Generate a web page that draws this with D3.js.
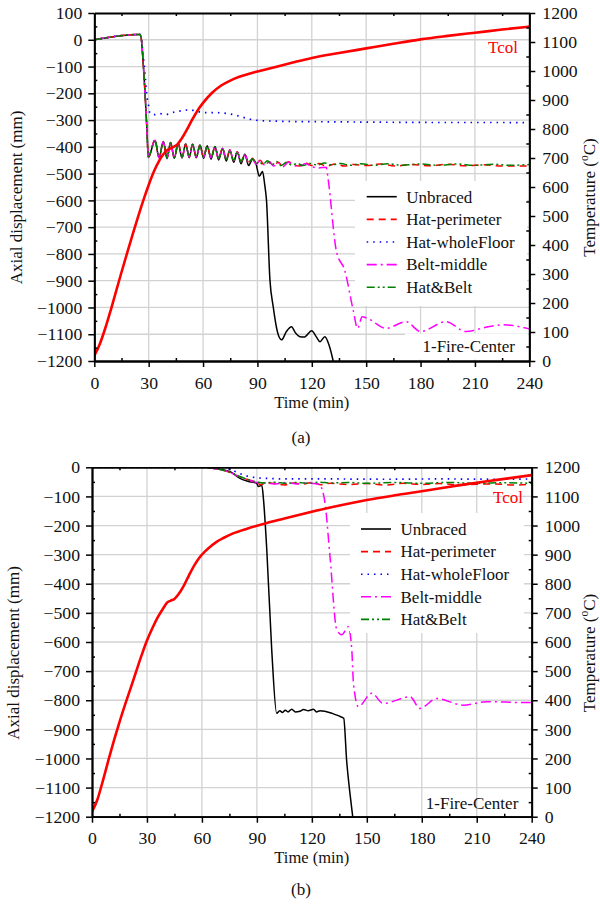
<!DOCTYPE html>
<html>
<head>
<meta charset="utf-8">
<script src="https://cdn.jsdelivr.net/npm/d3@7"></script>
<style>
  body { margin: 0; background: #fff; }
  svg text { font-family: "Liberation Serif", "Times New Roman", serif; fill: #111; }
</style>
</head>
<body>
<svg id="fig" width="600" height="904"></svg>
<script>
// ---------- tick values ----------
const timeTicks = [0, 30, 60, 90, 120, 150, 180, 210, 240];
const timeMinor = [15, 45, 75, 105, 135, 165, 195, 225];
const dispTicksA = [100, 0, -100, -200, -300, -400, -500, -600, -700, -800, -900, -1000, -1100, -1200];
const dispTicksB = [0, -100, -200, -300, -400, -500, -600, -700, -800, -900, -1000, -1100, -1200];
const dispMinorA = [50, -50, -150, -250, -350, -450, -550, -650, -750, -850, -950, -1050, -1150];
const dispMinorB = [-50, -150, -250, -350, -450, -550, -650, -750, -850, -950, -1050, -1150];
const tempTicks = [0, 100, 200, 300, 400, 500, 600, 700, 800, 900, 1000, 1100, 1200];
const tempMinor = [50, 150, 250, 350, 450, 550, 650, 750, 850, 950, 1050, 1150];

// ---------- series names ----------
const seriesLabels = ["Unbraced", "Hat-perimeter", "Hat-wholeFloor", "Belt-middle", "Hat&Belt"];
const seriesColors = ["#000000", "#ff0000", "#0000ff", "#ff00ff", "#008000"];
const seriesDash = [null, "7,5", "1.5,5", "10,4,2,4", "8,3,2,3,2,3"];

// ---------- (a) column temperature, °C ----------
const aTcolTime = [0,3,6,9,12,15,18,21,24,27,30,33,36,38,40,42,44,46,48,51,54,57,60,65,70,75,80,85,90,100,110,120,135,150,165,180,195,210,225,240];
const aTcolTemp = [18,58,112,174,240,306,370,433,494,553,607,655,693,712,726,733,739,748,765,797,832,864,890,925,950,967,980,990,998,1014,1030,1045,1062,1078,1094,1109,1121,1132,1143,1153];

// ---------- (a) axial displacement, mm ----------
const aUnbracedTime = [0,25.2,26,27,28,29,29.8,33.5,35.7,38.1,40.1,42.1,44.1,46.3,48.4,50.4,52.4,54.2,56.3,58.3,60.3,62.3,64.4,66.6,68.6,70.8,72.8,74.8,76.9,78.9,80.9,83.1,85.1,87.3,89.3,91,92.8,94,95,96.9,98.7,101,103.3,106,108.8,111,113.4,116,119.9,122.5,124.5,127.2,129.5,131.8,133];
const aUnbracedDisp = [0,20,0,-90,-200,-330,-440,-376,-441,-381,-444,-384,-443,-387,-442,-389,-441,-390,-441,-393,-443,-396,-446,-399,-449,-405,-453,-412,-458,-418,-463,-428,-470,-446,-465,-510,-492,-540,-600,-897,-997,-1090,-1121,-1090,-1072,-1095,-1109,-1110,-1087,-1110,-1128,-1109,-1140,-1200,-1240];

const aHatPerimTime = [0,25.2,26,27,28,29,29.8,33.5,35.7,38.1,40.1,42.1,44.1,46.3,48.4,50.4,52.4,54.2,56.3,58.3,60.3,62.3,64.4,66.6,68.6,70.8,72.8,74.8,76.9,78.9,80.9,83.1,85.1,87.3,89.3,91.5,94,96.5,99,101.5,104,107,110,113,116.5,120,124,128,133,138,143,150,158,166,175,185,195,205,215,225,240];
const aHatPerimDisp = [0,20,0,-90,-200,-330,-438,-374,-440,-380,-442,-384,-440,-387,-439,-389,-437,-390,-437,-393,-438,-396,-440,-399,-443,-405,-447,-412,-451,-418,-455,-428,-459,-443,-464,-450,-470,-456,-470,-458,-474,-456,-466,-472,-460,-470,-462,-472,-464,-472,-466,-470,-464,-472,-466,-471,-465,-471,-467,-472,-472];

const aHatWholeTime = [0,25.2,26,27,28,29,29.8,30.7,33,36.2,39.9,43,46.4,52.8,56,60.1,66,73,78,82.2,86,91.4,100,106,120,140,160,190,220,240];
const aHatWholeDisp = [0,20,2,-60,-130,-210,-240,-275,-280,-276,-279,-272,-267,-262,-266,-272,-272,-275,-282,-290,-297,-302,-304,-305,-306,-307,-308,-309,-309,-310];

const aBeltTime = [0,25.2,26,27,28,29,29.8,33.5,35.7,38.1,40.1,42.1,44.1,46.3,48.4,50.4,52.4,54.2,56.3,58.3,60.3,62.3,64.4,66.6,68.6,70.8,72.8,74.8,76.9,78.9,80.9,83.1,85.1,87.3,89.3,91.5,94,96.5,99,101.5,104,107,110,113,116.5,120,123.5,128,129,133.6,138.2,142.8,145.3,147.8,150.5,161,172,180,194,205,218,226,240];
const aBeltDisp = [0,20,0,-90,-200,-330,-439,-375,-441,-381,-443,-385,-441,-388,-440,-390,-438,-391,-438,-394,-439,-397,-441,-400,-444,-406,-448,-413,-452,-419,-456,-429,-460,-444,-465,-452,-468,-456,-472,-460,-474,-458,-468,-474,-462,-474,-479,-476,-520,-791,-862,-1009,-1078,-1035,-1040,-1078,-1053,-1090,-1053,-1090,-1071,-1065,-1080];

const aHatBeltTime = [0,25.2,26,27,28,29,29.8,33.5,35.7,38.1,40.1,42.1,44.1,46.3,48.4,50.4,52.4,54.2,56.3,58.3,60.3,62.3,64.4,66.6,68.6,70.8,72.8,74.8,76.9,78.9,80.9,83.1,85.1,87.3,89.3,91,93,95.5,98,100.5,103,106,109,112,115,119,123,127,131,136,141,147,154,162,170,180,190,200,210,220,230,240];
const aHatBeltDisp = [0,20,0,-90,-200,-330,-437,-375,-439,-381,-441,-385,-440,-388,-439,-390,-437,-391,-437,-394,-438,-397,-440,-400,-443,-406,-447,-413,-451,-419,-455,-429,-458,-444,-462,-455,-466,-452,-468,-455,-470,-458,-468,-462,-470,-462,-468,-460,-468,-462,-469,-463,-469,-463,-469,-464,-469,-464,-469,-465,-469,-466];

// ---------- (b) column temperature, °C ----------
const bTcolTime = [0,3,6,9,12,15,18,21,24,27,30,33,36,39,41,43,45,47,50,53,56,59,62,65,68,72,77,85,95,105,115,130,150,170,186,200,220,240];
const bTcolTemp = [17,60,125,195,262,325,384,440,497,553,605,648,686,717,735,742,748,762,792,830,865,893,913,930,944,958,973,990,1008,1024,1040,1062,1088,1108,1124,1138,1156,1173];

// ---------- (b) axial displacement, mm ----------
const bUnbracedTime = [0,62,66,70,75.4,80.8,85,89.9,90.8,92.7,93.6,95.4,98.1,100.8,102.5,104,105.5,107,109,111,113.5,115.5,118,120.9,122.5,124.5,127,129.5,131.5,133.6,135.5,137.4,139,140.8,142.3,143];
const bUnbracedDisp = [0,0,-3,-7,-15,-38,-48,-55,-66,-62,-110,-283,-627,-845,-836,-842,-834,-840,-831,-840,-838,-832,-836,-831,-840,-836,-838,-842,-846,-851,-856,-862,-1008,-1120,-1200,-1240];

const bHatPerimTime = [0,62,66,70,75,80,85,90,92,95,100,105,110,115,120,125,130,140,150,160,170,180,190,200,210,220,230,240];
const bHatPerimDisp = [0,0,-3,-8,-17,-31,-42,-52,-60,-53,-56,-61,-54,-58,-52,-60,-55,-59,-56,-61,-55,-59,-56,-61,-58,-57,-61,-58];

const bHatWholeTime = [0,70,73,76,79,82.6,86,90,95,105,130,160,190,220,240];
const bHatWholeDisp = [0,0,-2,-8,-17,-26,-32,-36,-38,-40,-40,-41,-40,-41,-40];

const bBeltTime = [0,62,66,70,75,80,85,90,95,100,106,112,118,121,124,125.4,127.2,129.9,133.6,136.3,139.9,141.8,142.7,145.4,152.7,159,173.6,179,188.1,202.7,215.4,237.2,240];
const bBeltDisp = [0,0,-3,-8,-16,-31,-43,-52,-54,-57,-52,-57,-53,-56,-58,-72,-123,-306,-558,-575,-548,-627,-741,-822,-776,-811,-788,-828,-794,-817,-805,-808,-808];

const bHatBeltTime = [0,62,66,70,75,80,85,90,94,100,106,112,118,124,130,140,150,165,180,195,210,225,240];
const bHatBeltDisp = [0,0,-3,-8,-16,-30,-42,-50,-54,-51,-55,-52,-55,-51,-54,-52,-55,-52,-55,-52,-55,-53,-55];

// ---------- drawing ----------
const FONT = "'Liberation Serif', 'Times New Roman', serif";
const svg = d3.select("#fig");
const defs = svg.append("defs");
const zip = (ts, vs) => ts.map((t, i) => [t, vs[i]]);
const intFmt = d3.format("d");

const panels = [
  {
    id: "a", left: 94.3, right: 529.3, top: 13, bottom: 361,
    dispDomain: [-1200, 100], dispTicks: dispTicksA, dispMinor: dispMinorA,
    tcol: zip(aTcolTime, aTcolTemp),
    series: [zip(aUnbracedTime, aUnbracedDisp), zip(aHatPerimTime, aHatPerimDisp),
             zip(aHatWholeTime, aHatWholeDisp), zip(aBeltTime, aBeltDisp), zip(aHatBeltTime, aHatBeltDisp)],
    tcolLabel: [518, 53],
    legendBox: [355, 181, 172, 125], legendX: 366.7, legendY0: 196.7, legendDy: 22.65,
    fireBox: [405, 333.6, 123, 26], fireLabel: [515, 351.5],
    yTitleX: 21.5, rTitleX: 594.5, titleCy: 197.5, xTitleY: 408, caption: "(a)", captionY: 443
  },
  {
    id: "b", left: 92, right: 531.7, top: 467.3, bottom: 816.7,
    dispDomain: [-1200, 0], dispTicks: dispTicksB, dispMinor: dispMinorB,
    tcol: zip(bTcolTime, bTcolTemp),
    series: [zip(bUnbracedTime, bUnbracedDisp), zip(bHatPerimTime, bHatPerimDisp),
             zip(bHatWholeTime, bHatWholeDisp), zip(bBeltTime, bBeltDisp), zip(bHatBeltTime, bHatBeltDisp)],
    tcolLabel: [523, 503],
    legendBox: [350, 513, 174, 120], legendX: 361, legendY0: 529, legendDy: 22.6,
    fireBox: null, fireLabel: [518.3, 808.5],
    yTitleX: 18.5, rTitleX: 594.5, titleCy: 653, xTitleY: 863, caption: "(b)", captionY: 895
  }
];

function styleAxis(sel) {
  sel.attr("font-family", FONT);
  sel.select(".domain").attr("stroke", "#000").attr("stroke-width", 1.8);
  sel.selectAll(".tick line").attr("stroke", "#000").attr("stroke-width", 1.5);
  sel.selectAll(".tick text").attr("font-size", 17.7).attr("fill", "#111").attr("font-family", FONT);
}

panels.forEach(p => {
  const x = d3.scaleLinear().domain([0, 240]).range([p.left, p.right]);
  const yD = d3.scaleLinear().domain(p.dispDomain).range([p.bottom, p.top]);
  const yT = d3.scaleLinear().domain([0, 1200]).range([p.bottom, p.top]);
  const g = svg.append("g").attr("font-family", FONT);

  const clipId = "clip-" + p.id;
  defs.append("clipPath").attr("id", clipId).append("rect")
    .attr("x", p.left).attr("y", p.top).attr("width", p.right - p.left).attr("height", p.bottom - p.top);

  // grid
  const grid = g.append("g").attr("stroke", "#d2d2d2").attr("stroke-width", 1.3);
  grid.selectAll("line.v").data(timeTicks.slice(1, -1)).join("line").attr("class", "v")
    .attr("x1", d => x(d)).attr("x2", d => x(d)).attr("y1", p.top).attr("y2", p.bottom);
  grid.selectAll("line.h").data(p.dispTicks.slice(1, -1)).join("line").attr("class", "h")
    .attr("y1", d => yD(d)).attr("y2", d => yD(d)).attr("x1", p.left).attr("x2", p.right);

  // plotted curves
  const plot = g.append("g").attr("clip-path", `url(#${clipId})`);
  const dispLine = d3.line().curve(d3.curveMonotoneX).x(d => x(d[0])).y(d => yD(d[1]));
  const order = [0, 2, 1, 3, 4];
  order.forEach(i => {
    plot.append("path").datum(p.series[i])
      .attr("d", dispLine).attr("fill", "none")
      .attr("stroke", seriesColors[i]).attr("stroke-width", i === 2 ? 1.7 : 1.5)
      .attr("stroke-dasharray", seriesDash[i]);
  });
  const tempLine = d3.line().curve(d3.curveMonotoneX).x(d => x(d[0])).y(d => yT(d[1]));
  plot.append("path").datum(p.tcol).attr("d", tempLine)
    .attr("fill", "none").attr("stroke", "#ff0000").attr("stroke-width", 2.6);

  // legend
  const lb = p.legendBox;
  const leg = g.append("g");
  leg.append("rect").attr("x", lb[0]).attr("y", lb[1]).attr("width", lb[2]).attr("height", lb[3]).attr("fill", "#fff");
  seriesLabels.forEach((name, i) => {
    const yy = p.legendY0 + i * p.legendDy;
    leg.append("line").attr("x1", p.legendX).attr("x2", p.legendX + 30).attr("y1", yy).attr("y2", yy)
      .attr("stroke", seriesColors[i]).attr("stroke-width", 1.6).attr("stroke-dasharray", seriesDash[i]);
    leg.append("text").attr("x", p.legendX + 39.5).attr("y", yy + 5.8).attr("font-size", 17).text(name);
  });

  if (p.fireBox) {
    const fb = p.fireBox;
    g.append("rect").attr("x", fb[0]).attr("y", fb[1]).attr("width", fb[2]).attr("height", fb[3]).attr("fill", "#fff");
  }
  g.append("text").attr("x", p.fireLabel[0]).attr("y", p.fireLabel[1]).attr("text-anchor", "end")
    .attr("font-size", 17).text("1-Fire-Center");
  g.append("text").attr("x", p.tcolLabel[0]).attr("y", p.tcolLabel[1]).attr("text-anchor", "end")
    .attr("font-size", 17).style("fill", "#ff0000").text("Tcol");

  // axes
  styleAxis(g.append("g").attr("transform", `translate(${p.left},0)`)
    .call(d3.axisLeft(yD).tickValues(p.dispTicks).tickSize(6).tickSizeOuter(0).tickPadding(6).tickFormat(intFmt)));
  styleAxis(g.append("g").attr("transform", `translate(${p.left},0)`)
    .call(d3.axisLeft(yD).tickValues(p.dispMinor).tickSize(-3).tickSizeOuter(0).tickFormat("")));

  styleAxis(g.append("g").attr("transform", `translate(${p.right},0)`)
    .call(d3.axisRight(yT).tickValues(tempTicks).tickSize(6).tickSizeOuter(0).tickPadding(7).tickFormat(intFmt)));
  styleAxis(g.append("g").attr("transform", `translate(${p.right},0)`)
    .call(d3.axisRight(yT).tickValues(tempMinor).tickSize(-3).tickSizeOuter(0).tickFormat("")));

  styleAxis(g.append("g").attr("transform", `translate(0,${p.bottom})`)
    .call(d3.axisBottom(x).tickValues(timeTicks).tickSize(6).tickSizeOuter(0).tickPadding(9).tickFormat(intFmt)));
  styleAxis(g.append("g").attr("transform", `translate(0,${p.bottom})`)
    .call(d3.axisBottom(x).tickValues(timeMinor).tickSize(-3).tickSizeOuter(0).tickFormat("")));

  styleAxis(g.append("g").attr("transform", `translate(0,${p.top})`)
    .call(d3.axisTop(x).tickValues(timeMinor).tickSize(-3).tickSizeOuter(0).tickFormat("")));

  // titles
  g.append("text").attr("transform", `translate(${p.yTitleX},${p.titleCy}) rotate(-90)`)
    .attr("text-anchor", "middle").attr("font-size", 17).text("Axial displacement (mm)");
  const rt = g.append("text").attr("transform", `translate(${p.rTitleX},${p.titleCy}) rotate(-90)`)
    .attr("text-anchor", "middle").attr("font-size", 17);
  rt.append("tspan").text("Temperature (");
  rt.append("tspan").attr("font-size", 11.5).attr("dy", -7).text("o");
  rt.append("tspan").attr("dy", 7).text("C)");
  g.append("text").attr("x", (p.left + p.right) / 2).attr("y", p.xTitleY)
    .attr("text-anchor", "middle").attr("font-size", 16.5).text("Time (min)");
  g.append("text").attr("x", 301).attr("y", p.captionY)
    .attr("text-anchor", "middle").attr("font-size", 17).text(p.caption);
});
</script>
</body>
</html>
